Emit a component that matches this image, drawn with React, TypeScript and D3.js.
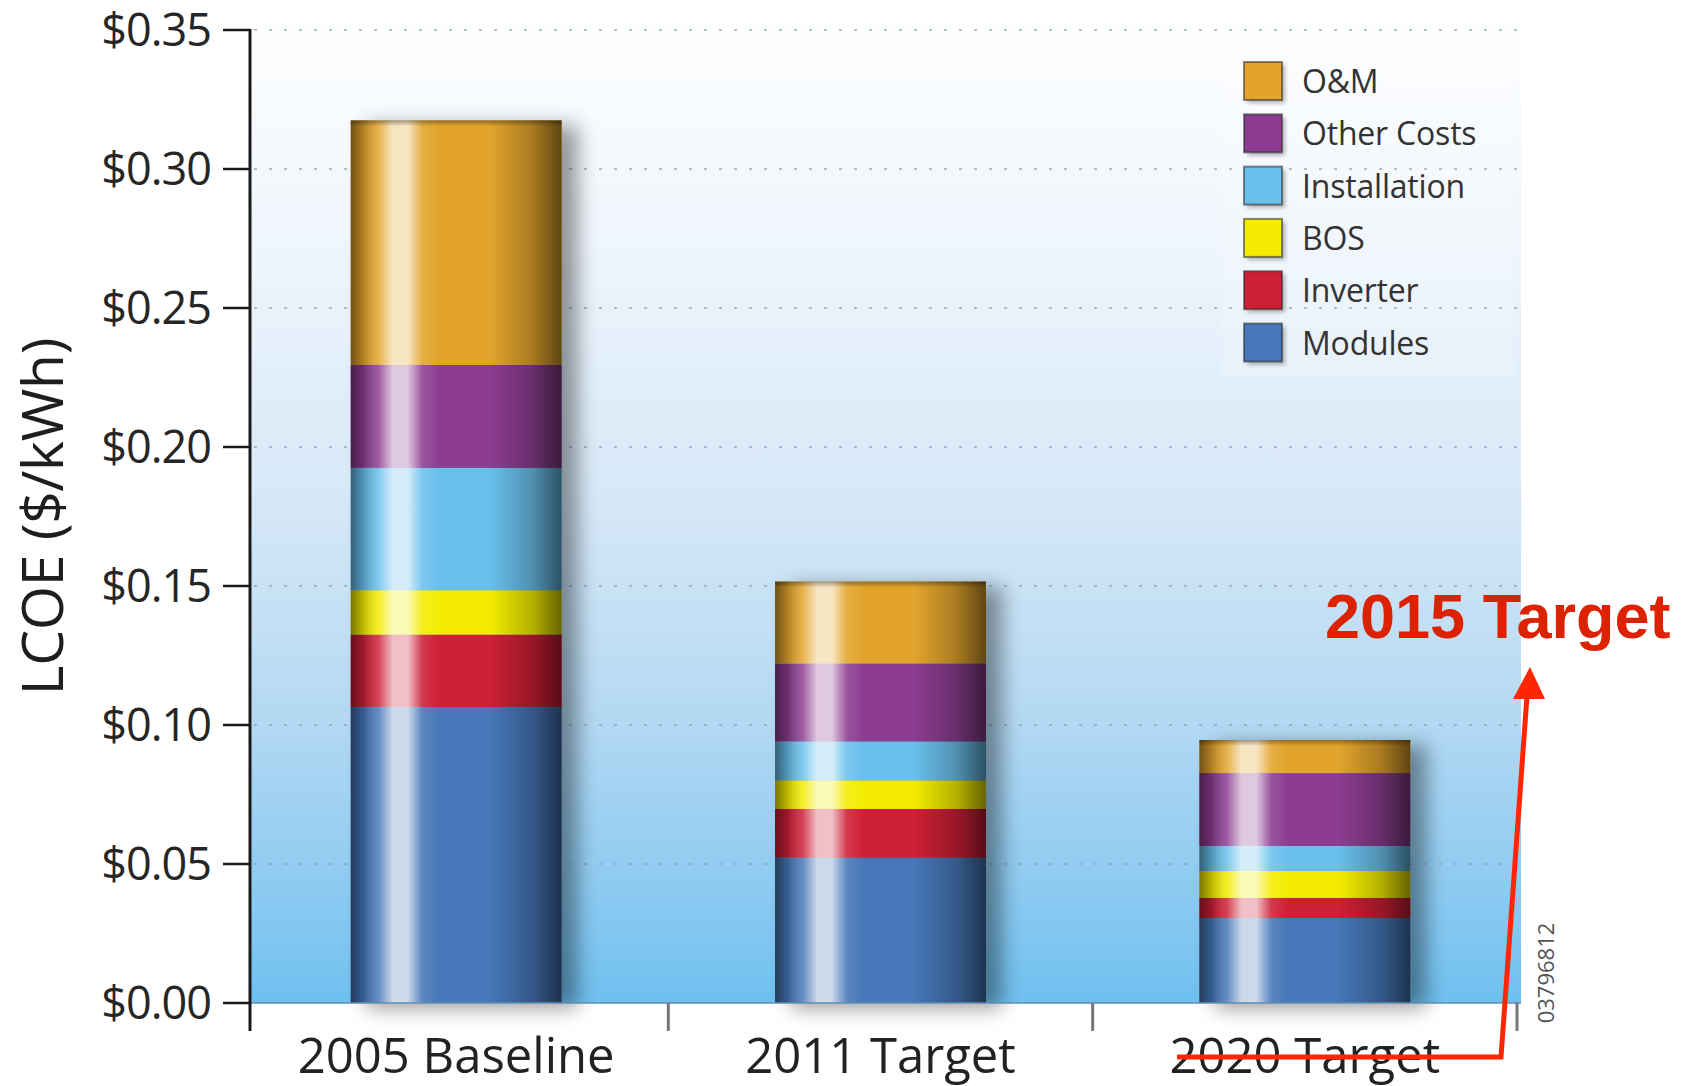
import React from "react";
import * as d3 from "d3";

// ---------- data ----------
const categories = ["2005 Baseline", "2011 Target", "2020 Target"];
const seriesKeys = ["Modules", "Inverter", "BOS", "Installation", "Other Costs", "O&M"];
const modules = [0.1065, 0.0523, 0.0306];
const inverter = [0.026, 0.0175, 0.0072];
const bos = [0.016, 0.0103, 0.0097];
const installation = [0.044, 0.014, 0.009];
const otherCosts = [0.037, 0.028, 0.0262];
const om = [0.088, 0.0295, 0.0119];
const yTicks = [0, 0.05, 0.1, 0.15, 0.2, 0.25, 0.3, 0.35];
const legendOrder = ["O&M", "Other Costs", "Installation", "BOS", "Inverter", "Modules"];
const yTitle = "LCOE ($/kWh)";
const annotationText = "2015 Target";
const figureId = "03796812";

const colors: Record<string, string> = {
  Modules: "#4677b8",
  Inverter: "#cd1f35",
  BOS: "#f3ec00",
  Installation: "#69c0ec",
  "Other Costs": "#8c3d91",
  "O&M": "#e2a42c",
};

const seriesValues: Record<string, number[]> = {
  Modules: modules,
  Inverter: inverter,
  BOS: bos,
  Installation: installation,
  "Other Costs": otherCosts,
  "O&M": om,
};

const rows = categories.map((c, i) => {
  const r: any = { category: c };
  seriesKeys.forEach((k) => (r[k] = seriesValues[k][i]));
  return r;
});

export default function App() {
  const W = 1697;
  const H = 1086;
  const x0 = 250;
  const plotRight = 1521;
  const yBase = 1003;
  const yTop = 30;

  const y = d3.scaleLinear().domain([0, 0.35]).range([yBase, yTop]);
  const x = d3.scaleBand<string>().domain(categories).range([244, 1517]).padding(0);
  const barW = x.bandwidth() * 0.497;
  const stacked = d3.stack<any>().keys(seriesKeys)(rows);
  const fmt = (v: number) => "$" + d3.format(".2f")(v);

  const font = "'Open Sans', 'DejaVu Sans', sans-serif";

  return (
    <svg
      width={W}
      height={H}
      style={{ position: "absolute", left: 0, top: 0, background: "#fff" }}
    >
      <defs>
        <linearGradient id="bg" x1="0" y1="0" x2="0" y2="1">
          <stop offset="0" stopColor="#ffffff" />
          <stop offset="0.25" stopColor="#eef5fc" />
          <stop offset="0.5" stopColor="#d6e8f7" />
          <stop offset="0.72" stopColor="#b3d8f3" />
          <stop offset="0.88" stopColor="#8ecbf1" />
          <stop offset="1" stopColor="#6fc0ef" />
        </linearGradient>
        <linearGradient id="cyl" x1="0" y1="0" x2="1" y2="0">
          <stop offset="0" stopColor="#000" stopOpacity="0.5" />
          <stop offset="0.06" stopColor="#000" stopOpacity="0.22" />
          <stop offset="0.13" stopColor="#fff" stopOpacity="0.15" />
          <stop offset="0.2" stopColor="#fff" stopOpacity="0.72" />
          <stop offset="0.27" stopColor="#fff" stopOpacity="0.72" />
          <stop offset="0.34" stopColor="#fff" stopOpacity="0.12" />
          <stop offset="0.42" stopColor="#fff" stopOpacity="0" />
          <stop offset="0.66" stopColor="#000" stopOpacity="0" />
          <stop offset="0.86" stopColor="#000" stopOpacity="0.25" />
          <stop offset="1" stopColor="#000" stopOpacity="0.58" />
        </linearGradient>
        <linearGradient id="topRim" x1="0" y1="0" x2="0" y2="1">
          <stop offset="0" stopColor="#000" stopOpacity="0.35" />
          <stop offset="1" stopColor="#000" stopOpacity="0" />
        </linearGradient>
        <filter id="shadow" x="-30%" y="-10%" width="160%" height="130%">
          <feGaussianBlur in="SourceAlpha" stdDeviation="10" />
          <feOffset dx="16" dy="5" result="b" />
          <feComponentTransfer>
            <feFuncA type="linear" slope="0.4" />
          </feComponentTransfer>
        </filter>
        <filter id="swShadow" x="-30%" y="-30%" width="160%" height="160%">
          <feGaussianBlur in="SourceAlpha" stdDeviation="2" />
          <feOffset dx="3" dy="3" />
          <feComponentTransfer>
            <feFuncA type="linear" slope="0.3" />
          </feComponentTransfer>
        </filter>
      </defs>

      {/* plot background */}
      <rect x={x0} y={0} width={plotRight - x0} height={yBase} fill="url(#bg)" />

      {/* legend panel */}
      <rect x={1222} y={44} width={292} height={332} fill="#fff" opacity={0.18} />

      {/* gridlines */}
      {yTicks
        .filter((t) => t > 0)
        .map((t) => (
          <line
            key={"g" + t}
            x1={x0 + 4}
            x2={plotRight - 4}
            y1={y(t)}
            y2={y(t)}
            stroke="#8e9fb3"
            strokeWidth={2}
            strokeDasharray="3 12"
            opacity={0.65}
          />
        ))}

      {/* bar shadows */}
      {categories.map((c) => {
        const total = stacked[stacked.length - 1].find((d: any) => d.data.category === c)![1];
        const bx = (x(c) as number) + (x.bandwidth() - barW) / 2;
        return (
          <rect
            key={"s" + c}
            x={bx}
            y={y(total)}
            width={barW}
            height={yBase - y(total)}
            fill="#123"
            filter="url(#shadow)"
          />
        );
      })}

      {/* stacked bars */}
      {stacked.map((layer) => (
        <g key={layer.key}>
          {layer.map((d: any) => {
            const bx = (x(d.data.category) as number) + (x.bandwidth() - barW) / 2;
            return (
              <rect
                key={d.data.category}
                x={bx}
                y={y(d[1])}
                width={barW}
                height={y(d[0]) - y(d[1])}
                fill={colors[layer.key]}
              />
            );
          })}
        </g>
      ))}

      {/* cylinder shading overlay */}
      {categories.map((c) => {
        const total = stacked[stacked.length - 1].find((d: any) => d.data.category === c)![1];
        const bx = (x(c) as number) + (x.bandwidth() - barW) / 2;
        return (
          <g key={"o" + c}>
            <rect x={bx} y={y(total)} width={barW} height={yBase - y(total)} fill="url(#cyl)" />
            <rect x={bx} y={y(total)} width={barW} height={6} fill="url(#topRim)" />
          </g>
        );
      })}

      {/* baseline */}
      <line x1={x0} x2={plotRight} y1={yBase} y2={yBase} stroke="#5f8fb3" strokeWidth={1.5} />

      {/* category ticks */}
      {categories.map((c) => {
        const tx = (x(c) as number) + x.bandwidth();
        return (
          <line key={"ct" + c} x1={tx} x2={tx} y1={yBase} y2={yBase + 28} stroke="#777" strokeWidth={3} />
        );
      })}

      {/* y axis */}
      <line x1={x0} x2={x0} y1={yTop - 1} y2={yBase + 28} stroke="#1a1a1a" strokeWidth={3} />
      {yTicks.map((t) => (
        <g key={"t" + t}>
          <line x1={223} x2={x0} y1={y(t)} y2={y(t)} stroke="#1a1a1a" strokeWidth={2.5} />
          <text
            x={211}
            y={y(t)}
            dy="0.36em"
            textAnchor="end"
            fontFamily={font}
            fontSize={45}
            fill="#262626"
            letterSpacing={-1}
          >
            {fmt(t)}
          </text>
        </g>
      ))}

      {/* y title */}
      <text
        transform={`translate(63, ${(y(0.35) + y(0)) / 2})` + " rotate(-90)"}
        textAnchor="middle"
        fontFamily={font}
        fontSize={57}
        fill="#1e1e1e"
        letterSpacing={-0.3}
      >
        {yTitle}
      </text>

      {/* x labels */}
      {categories.map((c) => (
        <text
          key={"xl" + c}
          x={(x(c) as number) + x.bandwidth() / 2}
          y={1073}
          textAnchor="middle"
          fontFamily={font}
          fontSize={49}
          fill="#222"
          letterSpacing={0}
        >
          {c}
        </text>
      ))}

      {/* legend */}
      {legendOrder.map((k, i) => {
        const cy = 81 + i * 52.3;
        return (
          <g key={"lg" + k}>
            <rect x={1244} y={cy - 19} width={38} height={38} fill="#000" filter="url(#swShadow)" />
            <rect
              x={1244}
              y={cy - 19}
              width={38}
              height={38}
              fill={colors[k]}
              stroke="#2a2a2a"
              strokeOpacity={0.55}
              strokeWidth={2}
            />
            <text x={1302} y={cy + 12} fontFamily={font} fontSize={32} fill="#333" letterSpacing={-0.2}>
              {k}
            </text>
          </g>
        );
      })}

      {/* figure id */}
      <text
        transform="translate(1554, 973) rotate(-90)"
        textAnchor="middle"
        fontFamily={font}
        fontSize={22}
        fill="#555"
      >
        {figureId}
      </text>

      {/* red annotation */}
      <polyline
        points="1177,1057 1501,1057 1527,696"
        fill="none"
        stroke="#ff2600"
        strokeWidth={5}
        strokeLinejoin="miter"
      />
      <polygon points="1530,667 1513,699 1545,699" fill="#ff2600" />
      <text
        x={1325}
        y={638}
        fontFamily="'Liberation Sans', Arial, Helvetica, sans-serif"
        fontWeight="bold"
        fontSize={63}
        fill="#dc2200"
      >
        {annotationText}
      </text>
    </svg>
  );
}
